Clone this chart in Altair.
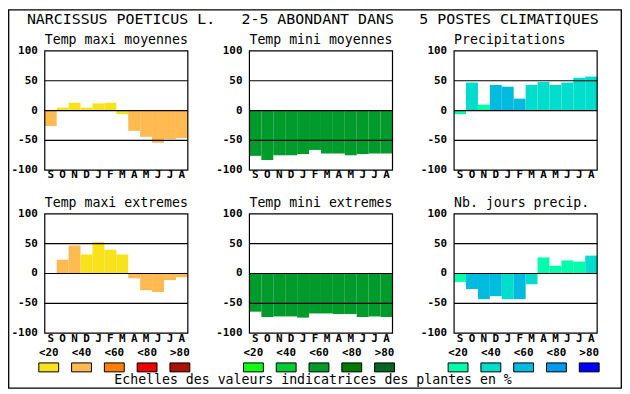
import altair as alt
import pandas as pd

# ---------------- data ----------------
months = ["S", "O", "N", "D", "J", "F", "M", "A", "M", "J", "J", "A"]
classes = ["<20", "<40", "<60", "<80", ">80"]

temp_colors = ["#f8e21c", "#ffba52", "#ff7f00", "#ee0000", "#aa1100"]
green_colors = ["#11ff11", "#00cc33", "#009b2b", "#007a00", "#006622"]
blue_colors = ["#00ffaa", "#00ddcc", "#00bbdd", "#0099ee", "#0000ff"]

tmax_moy = [-26, 5, 13, 5, 12, 13, -6, -34, -44, -54, -48, -46]
tmax_moy_cls = ["<40", "<20", "<20", "<20", "<20", "<20", "<20", "<40", "<40", "<40", "<40", "<40"]
tmin_moy = [-76, -83, -75, -75, -73, -66, -72, -72, -75, -73, -72, -72]
tmin_moy_cls = ["<60"] * 12
precip = [-6, 47, 10, 43, 40, 20, 43, 48, 43, 47, 55, 57]
precip_cls = ["<20", "<40", "<20", "<60", "<60", "<60", "<40", "<40", "<40", "<40", "<40", "<40"]
tmax_ext = [0, 23, 47, 32, 53, 40, 32, -8, -28, -31, -11, -6]
tmax_ext_cls = ["<20", "<40", "<40", "<20", "<20", "<20", "<20", "<40", "<40", "<40", "<40", "<40"]
tmin_ext = [-64, -73, -72, -72, -74, -67, -67, -68, -68, -73, -72, -73]
tmin_ext_cls = ["<60"] * 12
jours = [-14, -26, -43, -38, -43, -43, -18, 27, 13, 22, 20, 30]
jours_cls = ["<20", "<60", "<60", "<60", "<40", "<60", "<40", "<20", "<20", "<20", "<20", "<40"]

y_ticks = [100, 50, 0, -50, -100]
grid_vals = [50, 0, -50]

title_parts = ["NARCISSUS POETICUS L.", "2-5 ABONDANT DANS", "5 POSTES CLIMATIQUES"]
panel_titles = ["Temp maxi moyennes", "Temp mini moyennes", "Precipitations",
                "Temp maxi extremes", "Temp mini extremes", "Nb. jours precip."]
footer = "Echelles des valeurs indicatrices des plantes en %"

# ---------------- layout ----------------
MONO = "DejaVu Sans Mono"
W, H = 618, 382
col_left = [37, 243, 449]
row_top = [42, 206]
PW, PH = 144, 120
title_base = [35, 199]
month_base = [170, 335]
XDOM = [0, 12]
YDOM = [-100, 100]


def panel(values, cls, title, palette, col, row):
    x0 = col_left[col]
    y0 = row_top[row]
    xs = alt.Scale(domain=XDOM, range=[x0, x0 + PW], nice=False, zero=False)
    ys = alt.Scale(domain=YDOM, range=[y0 + PH, y0], nice=False, zero=False)
    cs = alt.Scale(domain=classes, range=palette)
    df = pd.DataFrame({"i": list(range(12)), "v": values, "c": cls, "m": months})
    df["i1"] = df["i"] + 1
    df["mid"] = df["i"] + 0.5
    df["z"] = 0
    base = alt.Chart(df)
    bars = base.mark_rect().encode(
        x=alt.X("i:Q", scale=xs, axis=None),
        x2="i1:Q",
        y=alt.Y("v:Q", scale=ys, axis=None),
        y2="z:Q",
        color=alt.Color("c:N", scale=cs, legend=None),
    )
    mlab = base.mark_text(font=MONO, fontSize=11, fontWeight="bold",
                          baseline="alphabetic", color="black").encode(
        x=alt.X("mid:Q", scale=xs, axis=None),
        y=alt.value(month_base[row]),
        text="m:N",
    )
    gdf = pd.DataFrame({"g": grid_vals})
    gdf["a"] = XDOM[0]
    gdf["b"] = XDOM[1]
    grid = alt.Chart(gdf).mark_rule(color="black", strokeWidth=1.2).encode(
        x=alt.X("a:Q", scale=xs, axis=None), x2="b:Q",
        y=alt.Y("g:Q", scale=ys, axis=None),
    )
    fdf = pd.DataFrame({"a": [XDOM[0]], "b": [XDOM[1]], "lo": [YDOM[0]], "hi": [YDOM[1]]})
    frame = alt.Chart(fdf).mark_rect(
        fillOpacity=0, stroke="black", strokeWidth=1.2).encode(
        x=alt.X("a:Q", scale=xs, axis=None), x2="b:Q",
        y=alt.Y("lo:Q", scale=ys, axis=None), y2="hi:Q",
    )
    tdf = pd.DataFrame({"t": y_ticks})
    tdf["ts"] = [str(t) for t in y_ticks]
    ylab = alt.Chart(tdf).mark_text(font=MONO, fontSize=11, fontWeight="bold",
                                    align="right", baseline="middle", color="black").encode(
        y=alt.Y("t:Q", scale=ys, axis=None),
        x=alt.value(x0 - 7),
        text="ts:N",
    )
    ttl = alt.Chart(pd.DataFrame({"t": [title]})).mark_text(
        font=MONO, fontSize=13.3, align="left", baseline="alphabetic", color="black").encode(
        x=alt.value(x0), y=alt.value(title_base[row]), text="t:N")
    return [bars, grid, frame, ylab, mlab, ttl]


def legend(palette, col):
    left = col_left[col] - 12.5
    ls = alt.Scale(domain=classes, range=[left, left + 165], paddingInner=0, paddingOuter=0)
    cs = alt.Scale(domain=classes, range=palette)
    base = alt.Chart(pd.DataFrame({"c": classes}))
    lab = base.mark_text(font=MONO, fontSize=11, fontWeight="bold",
                         baseline="alphabetic", color="black").encode(
        x=alt.X("c:N", scale=ls, axis=None, sort=classes), y=alt.value(349), text="c:N")
    box = base.mark_bar(size=20, stroke="black", strokeWidth=1).encode(
        x=alt.X("c:N", scale=ls, axis=None, sort=classes),
        y=alt.value(356), y2=alt.value(365),
        color=alt.Color("c:N", scale=cs, legend=None),
    )
    return [box, lab]


tdf = pd.DataFrame({"t": title_parts, "k": [0, 1, 2]})
ts = alt.Scale(domain=[0, 1, 2], range=[19, 235, 414])
main_title = alt.Chart(tdf).mark_text(font=MONO, fontSize=15, align="left",
                                      baseline="alphabetic", color="black").encode(
    x=alt.X("k:Q", scale=ts, axis=None), y=alt.value(15), text="t:N")

foot = alt.Chart(pd.DataFrame({"t": [footer]})).mark_text(
    font=MONO, fontSize=13.3, align="center", baseline="alphabetic", color="black").encode(
    x=alt.value(307), y=alt.value(377), text="t:N")

border = alt.Chart(pd.DataFrame({"b": [0]})).mark_rect(
    fillOpacity=0, stroke="black", strokeWidth=1.3).encode(
    x=alt.value(0.7), x2=alt.value(W - 0.7), y=alt.value(0.7), y2=alt.value(H - 0.7))

layers = [main_title]
layers += panel(tmax_moy, tmax_moy_cls, panel_titles[0], temp_colors, 0, 0)
layers += panel(tmin_moy, tmin_moy_cls, panel_titles[1], green_colors, 1, 0)
layers += panel(precip, precip_cls, panel_titles[2], blue_colors, 2, 0)
layers += panel(tmax_ext, tmax_ext_cls, panel_titles[3], temp_colors, 0, 1)
layers += panel(tmin_ext, tmin_ext_cls, panel_titles[4], green_colors, 1, 1)
layers += panel(jours, jours_cls, panel_titles[5], blue_colors, 2, 1)
layers += legend(temp_colors, 0)
layers += legend(green_colors, 1)
layers += legend(blue_colors, 2)
layers += [foot, border]

chart = alt.layer(*layers).resolve_scale(
    x="independent", y="independent", color="independent"
).properties(
    width=W, height=H, autosize=alt.AutoSizeParams(type="none"), padding=0,
    background="white",
).configure_view(strokeWidth=0)

chart.save("out.html", embed_options={"renderer": "svg", "actions": False})
